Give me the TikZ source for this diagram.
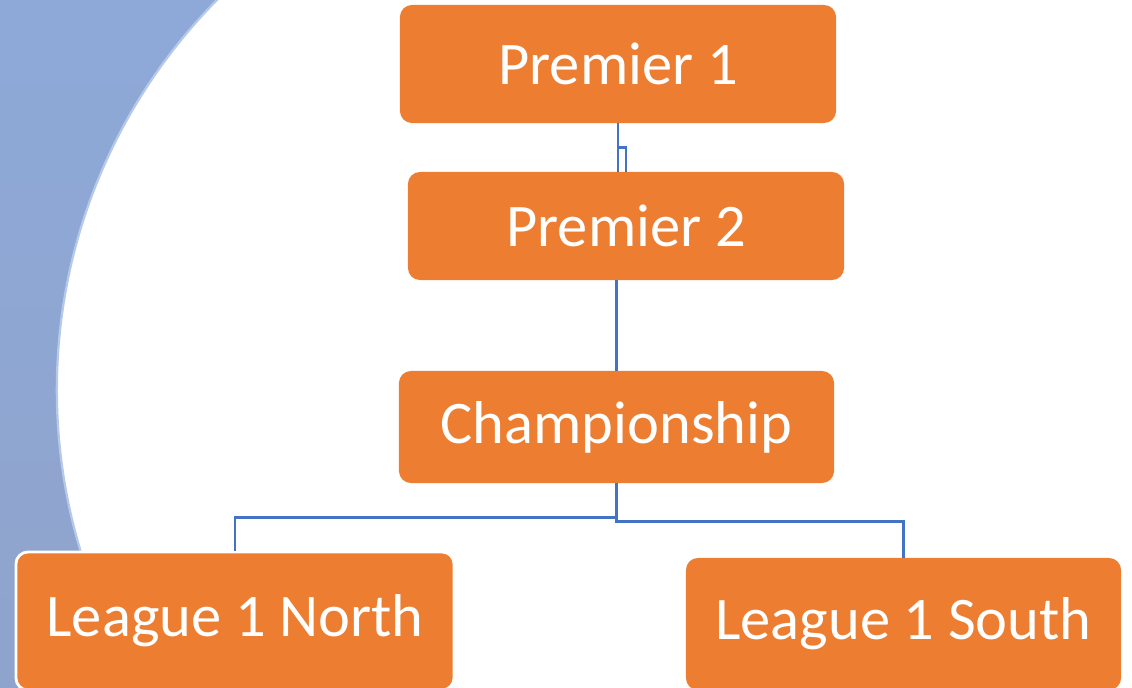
\documentclass[tikz,border=0pt]{standalone}
\usepackage{fontspec}
\setmainfont{Carlito}
\usepackage{xcolor}
\usepackage{tikz}
\usetikzlibrary{calc}

\definecolor{boxorange}{HTML}{ED7D31}
\definecolor{linkblue}{HTML}{4472C4}
\definecolor{bgtop}{HTML}{8EAADB}
\definecolor{bgbottom}{HTML}{8FA2C7}
\definecolor{bgedge}{HTML}{B7C9E8}

\tikzset{
  tierbox/.style={rectangle, rounded corners=0.3cm, fill=boxorange, text=white,
    font=\fontsize{43}{50}\selectfont, inner sep=0pt},
  link/.style={draw=linkblue, line width=2.1pt}
}

\begin{document}
\begin{tikzpicture}[x=0.025cm,y=-0.025cm]
\useasboundingbox (0,0) rectangle (1132,688);

% blue backdrop left of the big white circle
\begin{scope}
  \clip (0,0) rectangle (400,688);
  \shade[top color=bgtop, bottom color=bgbottom, even odd rule]
    (0,0) rectangle (612,688) (612,390) circle[radius=13.875cm];
  \draw[bgedge, line width=1.6pt] (612,390) circle[radius=13.875cm];
\end{scope}

\node[tierbox, minimum width=10.9cm, minimum height=2.95cm] (prem1) at (618,64) {Premier 1};
\node[tierbox, minimum width=10.9cm, minimum height=2.7cm] (prem2) at (626,226) {Premier 2};
\node[tierbox, minimum width=10.875cm, minimum height=2.8cm] (champ) at (616.5,427) {Championship};
\node[tierbox, draw=white, line width=2pt, minimum width=10.95cm, minimum height=3.45cm] (north) at (235,621) {League 1 North};
\node[tierbox, minimum width=10.875cm, minimum height=3.3cm] (south) at (903.5,624) {League 1 South};

\draw[link] (prem1.south) -- (prem1.south |- prem2.north);
\draw[link] ($(prem1.south)!0.5!(prem1.south |- prem2.north)$) -| (prem2.north);

\draw[link] (champ.north) -- (champ.north |- prem2.south);

\draw[link] (champ.south) -- ++(0,34) -| (north.north);
\draw[link] (champ.south) -- ++(0,38) -| (south.north);

\end{tikzpicture}
\end{document}
